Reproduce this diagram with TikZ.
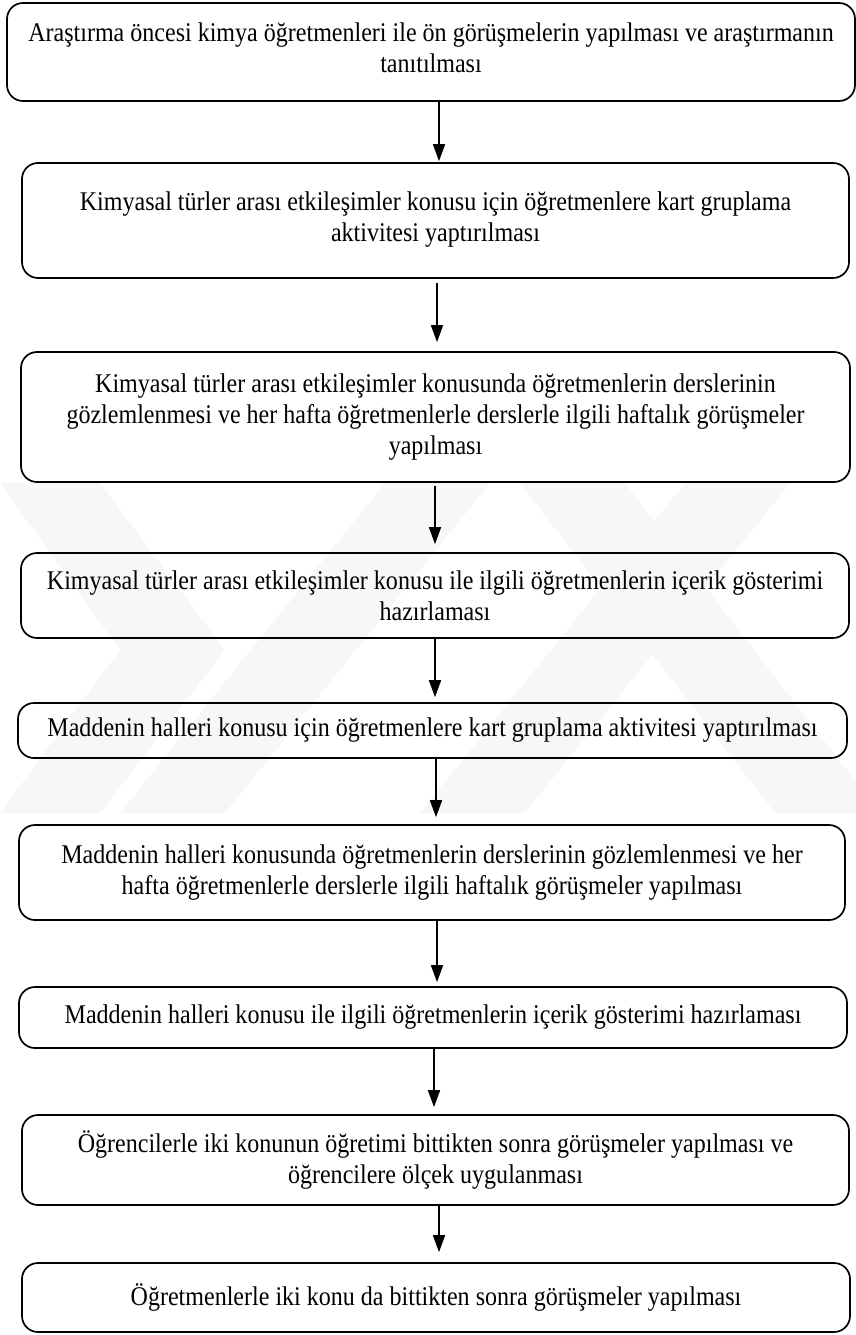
\documentclass[tikz,border=0pt]{standalone}
\usepackage{fontspec}
\setmainfont[FakeStretch=0.89]{Liberation Serif}
\usetikzlibrary{arrows.meta}

% empty trailing line that lifts a text block by about 4pt
\newcommand{\liftblock}{\\[-23pt]\mbox{}}

\begin{document}
\begin{tikzpicture}[x=1pt,y=-1pt,
  stepbox/.style={draw, line width=1.7pt, rounded corners=16pt, align=center,
    inner sep=0pt, font=\fontsize{27}{31}\selectfont},
  arr/.style={line width=1.7pt, -{Triangle[length=17pt,width=12pt]}},
  emblem/.style={fill=black!3, draw=none},
]
\useasboundingbox (0,0) rectangle (856,1335);

% faint background emblem
\fill[emblem] (0,483) -- (100,483) -- (225,650) -- (100,813) -- (0,813) -- (120,650) -- cycle;
\fill[emblem] (120,813) -- (225,813) -- (490,483) -- (385,483) -- cycle;
\fill[emblem] (420,813) -- (525,813) -- (790,483) -- (685,483) -- cycle;
\fill[emblem] (520,483) -- (625,483) -- (880,813) -- (775,813) -- cycle;

% process steps
\node[stepbox, minimum width=848pt, minimum height=98pt] (b1) at (431,52)
  {Araştırma öncesi kimya öğretmenleri ile ön görüşmelerin yapılması ve araştırmanın\\tanıtılması\liftblock};
\node[stepbox, minimum width=827pt, minimum height=115pt] (b2) at (435.5,220.5)
  {Kimyasal türler arası etkileşimler konusu için öğretmenlere kart gruplama\\aktivitesi yaptırılması\liftblock};
\node[stepbox, minimum width=829pt, minimum height=130pt] (b3) at (435.5,417)
  {Kimyasal türler arası etkileşimler konusunda öğretmenlerin derslerinin\\gözlemlenmesi ve her hafta öğretmenlerle derslerle ilgili haftalık görüşmeler\\yapılması};
\node[stepbox, minimum width=828pt, minimum height=85pt] (b4) at (435,595.5)
  {Kimyasal türler arası etkileşimler konusu ile ilgili öğretmenlerin içerik gösterimi\\hazırlaması};
\node[stepbox, minimum width=829pt, minimum height=55pt] (b5) at (432.5,730.5)
  {Maddenin halleri konusu için öğretmenlere kart gruplama aktivitesi yaptırılması};
\node[stepbox, minimum width=826pt, minimum height=95pt] (b6) at (432,872.5)
  {Maddenin halleri konusunda öğretmenlerin derslerinin gözlemlenmesi ve her\\hafta öğretmenlerle derslerle ilgili haftalık görüşmeler yapılması};
\node[stepbox, minimum width=828pt, minimum height=61pt] (b7) at (433,1017.5)
  {Maddenin halleri konusu ile ilgili öğretmenlerin içerik gösterimi hazırlaması};
\node[stepbox, minimum width=827pt, minimum height=90pt] (b8) at (435.5,1160)
  {Öğrencilerle iki konunun öğretimi bittikten sonra görüşmeler yapılması ve\\öğrencilere ölçek uygulanması};
\node[stepbox, minimum width=828pt, minimum height=69pt] (b9) at (436,1297.5)
  {Öğretmenlerle iki konu da bittikten sonra görüşmeler yapılması};

% arrow columns
\coordinate (c1) at (439,0);
\coordinate (c2) at (437,0);
\coordinate (c3) at (435,0);
\coordinate (c4) at (435,0);
\coordinate (c5) at (436,0);
\coordinate (c6) at (437,0);
\coordinate (c7) at (434,0);
\coordinate (c8) at (439,0);

\draw[arr, shorten >=1pt] (b1.south -| c1) -- (b2.north -| c1);
\draw[arr, shorten <=4pt, shorten >=9pt] (b2.south -| c2) -- (b3.north -| c2);
\draw[arr, shorten <=3pt, shorten >=8pt] (b3.south -| c3) -- (b4.north -| c3);
\draw[arr, shorten >=5pt] (b4.south -| c4) -- (b5.north -| c4);
\draw[arr, shorten >=7pt] (b5.south -| c5) -- (b6.north -| c5);
\draw[arr, shorten >=4pt] (b6.south -| c6) -- (b7.north -| c6);
\draw[arr, shorten >=7pt] (b7.south -| c7) -- (b8.north -| c7);
\draw[arr, shorten >=10pt] (b8.south -| c8) -- (b9.north -| c8);
\end{tikzpicture}
\end{document}
